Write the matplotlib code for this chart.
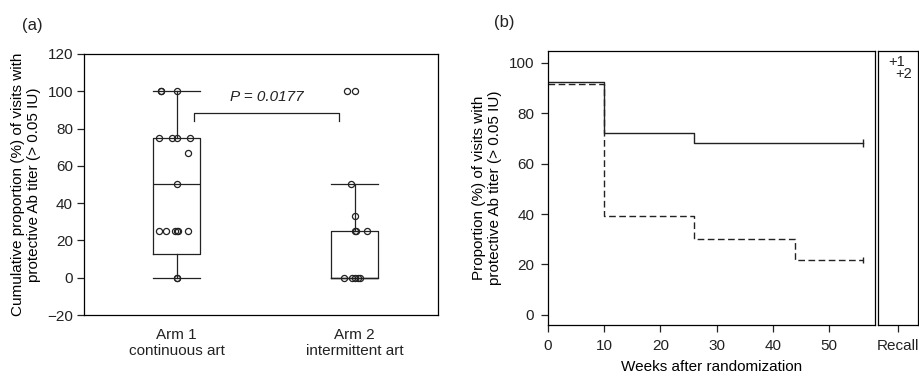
import numpy as np
import matplotlib.pyplot as plt

plt.rcParams['font.family'] = ['Liberation Sans', 'DejaVu Sans']
plt.rcParams['font.size'] = 11
plt.rcParams['axes.linewidth'] = 0.9
plt.rcParams['text.color'] = '#222222'
plt.rcParams['xtick.color'] = '#222222'
plt.rcParams['ytick.color'] = '#222222'

# panel (a) data
arm_labels = ["Arm 1\ncontinuous art", "Arm 2\nintermittent art"]
arm1_values = [100, 100, 100, 75, 75, 75, 75, 66.7, 50, 25, 25, 25, 25, 25, 25, 0, 0]
arm1_jitter = [-0.088, -0.088, 0, -0.098, -0.028, 0, 0.075, 0.062, 0,
               -0.1, -0.062, -0.01, 0, 0.01, 0.062, 0, 0]
arm2_values = [100, 100, 50, 33.3, 25, 25, 25, 0, 0, 0, 0, 0]
arm2_jitter = [-0.045, 0, -0.02, 0, 0, 0.01, 0.07, -0.06, -0.017, 0, 0.017, 0.03]
# box stats: whisker low, q1, median, q3, whisker high
box_whislo = [0, 0]
box_q1 = [12.5, 0]
box_med = [50, 0]
box_q3 = [75, 25]
box_whishi = [100, 50]
p_text = "P = 0.0177"

# panel (b) data
arm1_weeks = [0, 10, 26, 56]
arm1_prop = [92.3, 72.0, 68.0, 68.0]
arm2_weeks = [0, 10, 26, 44, 56]
arm2_prop = [91.7, 39.2, 30.0, 21.8, 21.8]
recall_labels = ["+1", "+2"]
recall_prop = [100.3, 95.5]

fig = plt.figure(figsize=(9.2, 3.8), dpi=100)

# ---- (a) box plot
ax1 = fig.add_axes([0.0913, 0.171, 0.385, 0.687])
stats = []
for i in range(2):
    stats.append(dict(whislo=box_whislo[i], q1=box_q1[i], med=box_med[i],
                      q3=box_q3[i], whishi=box_whishi[i], fliers=[]))
ax1.bxp(stats, positions=[1, 2], widths=0.26, showfliers=False,
        boxprops=dict(color='#222222', lw=0.9),
        medianprops=dict(color='#222222', lw=0.9),
        whiskerprops=dict(color='#222222', lw=0.9),
        capprops=dict(color='#222222', lw=0.9), capwidths=0.26)
ax1.plot(1 + np.array(arm1_jitter), arm1_values, 'o', mfc='none', mec='#222222',
         ms=4.4, mew=0.9, zorder=3)
ax1.plot(2 + np.array(arm2_jitter), arm2_values, 'o', mfc='none', mec='#222222',
         ms=4.4, mew=0.9, zorder=3)
# significance bracket
ax1.plot([1.098, 1.098, 1.912, 1.912], [84, 88.4, 88.4, 84], color='#222222', lw=0.9)
ax1.text(1.507, 97, p_text, style='italic', ha='center', va='center', fontsize=11)
ax1.set_xlim(0.48, 2.47)
ax1.set_ylim(-20, 120)
ax1.set_yticks(np.arange(-20, 121, 20))
ax1.set_yticklabels([str(v).replace('-', '\u2212') for v in range(-20, 121, 20)])
ax1.set_xticks([1, 2])
ax1.set_xticklabels(arm_labels)
ax1.tick_params(axis='x', length=0, pad=9)
ax1.tick_params(axis='y', length=5, width=0.9, pad=3)
ax1.set_ylabel("Cumulative proportion (%) of visits with\nprotective Ab titer (> 0.05 IU)",
               labelpad=4)
fig.text(0.035, 0.934, "(a)", fontsize=12, ha='center', va='center')

# ---- (b) step curves
ax2 = fig.add_axes([0.5957, 0.1447, 0.3554, 0.721])
ax2.step(arm1_weeks, arm1_prop, where='post', color='#222222', lw=1)
ax2.step(arm2_weeks, arm2_prop, where='post', color='#222222', lw=1,
         linestyle=(0, (4.8, 2.5)))
ax2.plot(arm1_weeks[-1], arm1_prop[-1], marker='|', ms=6, color='#222222', mew=1)
ax2.plot(arm2_weeks[-1], arm2_prop[-1], marker='|', ms=5, color='#222222', mew=1)
ax2.set_xlim(0, 58.2)
ax2.set_ylim(-4, 104.6)
ax2.set_xticks(np.arange(0, 51, 10))
ax2.set_yticks(np.arange(0, 101, 20))
ax2.tick_params(length=5, width=0.9, pad=5)
ax2.set_xlabel("Weeks after randomization", labelpad=5)
ax2.set_ylabel("Proportion (%) of visits with\nprotective Ab titer (> 0.05 IU)", labelpad=5)
fig.text(0.548, 0.942, "(b)", fontsize=12, ha='center', va='center')

# recall panel
ax3 = fig.add_axes([0.9543, 0.1447, 0.0435, 0.721])
ax3.set_xlim(0, 2)
ax3.set_ylim(-4, 104.6)
ax3.set_xticks([1])
ax3.set_xticklabels(["Recall"])
ax3.set_yticks([])
ax3.tick_params(length=5, width=0.9, pad=5)
ax3.text(0.5, recall_prop[0], recall_labels[0], ha='left', va='center', fontsize=10.5)
ax3.text(0.85, recall_prop[1], recall_labels[1], ha='left', va='center', fontsize=10.5)

fig.savefig("out.png", dpi=100)
